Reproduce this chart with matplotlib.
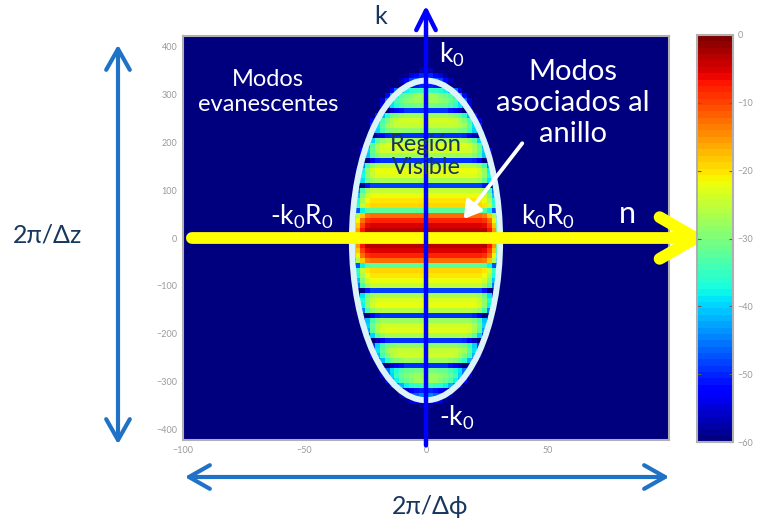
import numpy as np
import matplotlib
matplotlib.use("Agg")
import matplotlib.pyplot as plt
from matplotlib.patches import Ellipse, FancyArrowPatch

plt.rcParams["font.family"] = ["Lato", "DejaVu Sans"]
plt.rcParams["mathtext.fontset"] = "custom"
plt.rcParams["mathtext.rm"] = "Lato"
plt.rcParams["mathtext.default"] = "regular"

# ---- data -------------------------------------------------------------
# azimuthal mode index n (columns) and axial wavenumber k (rows)
n_step = 2.0
k_step = 10.4
n_centers = np.arange(-100, 101, n_step)
k_upper = k_step * (np.arange(40) + 0.5)          # rows above k = 0

# level (dB) of each row on the k > 0 side, from k = 5.2 upward;
# the field is symmetric in k
upper_rows_db = [-2, -3, -5, -8, -13, -32, -19, -20, -22, -25,
                 -48, -27, -23, -22, -26, -49, -28, -24, -23, -27,
                 -49, -29, -25, -24, -28, -49, -30, -26, -25, -29,
                 -42, -32, -32, -32, -32, -32, -32, -32, -32, -32]

# visible-region extent used for the roll-off (|n| <= k0 R0, |k| <= k0)
k0R0 = 29.5
k0 = 345.0

# roll-off near the border of the visible region (normalised radius -> dB drop)
edge_r = [0.0, 0.80, 0.87, 0.93, 0.98, 1.03, 1.08]
edge_drop_db = [0, 0, 3, 9, 18, 30, 60]

cbar_ticks = [0, -10, -20, -30, -40, -50, -60]
x_ticks = [-100, -50, 0, 50]
y_ticks = [400, 300, 200, 100, 0, -100, -200, -300, -400]

# ---- field ------------------------------------------------------------
k_centers = np.concatenate([-k_upper[::-1], k_upper])
rows_db = np.concatenate([np.array(upper_rows_db[::-1]), np.array(upper_rows_db)])
N, K = np.meshgrid(n_centers, k_centers)
r = np.sqrt((N / k0R0) ** 2 + (K / k0) ** 2)
field = rows_db[:, None] - np.interp(r, edge_r, edge_drop_db)
field = np.clip(field, -60, 0)

# ---- figure -----------------------------------------------------------
W, H = 760, 522
fig = plt.figure(figsize=(W / 100, H / 100), dpi=100)
fig.patch.set_facecolor("white")

cmap = plt.get_cmap("jet", 64)
ax = fig.add_axes([183 / W, 1 - 440 / H, 486 / W, 404 / H])
ax.set_facecolor(cmap(0))
im = ax.imshow(field, extent=[n_centers[0] - n_step / 2, n_centers[-1] + n_step / 2,
                              k_centers[0] - k_step / 2, k_centers[-1] + k_step / 2],
               origin="lower", cmap=cmap, vmin=-60, vmax=0, aspect="auto",
               interpolation="nearest")
ax.set_xlim(-100, 100)
ax.set_ylim(-421, 421)
ax.set_xticks(x_ticks)
ax.set_yticks(y_ticks)
ax.tick_params(length=0, labelsize=6.5, labelcolor="#9a9a9a", pad=4)
for s in ax.spines.values():
    s.set_color("#b0b0b0")
    s.set_linewidth(1.5)

# colour bar
cax = fig.add_axes([697 / W, 1 - 442 / H, 36 / W, 407 / H])
cb = fig.colorbar(im, cax=cax, ticks=cbar_ticks)
cb.outline.set_edgecolor("#b0b0b0")
cb.outline.set_linewidth(1.5)
cax.tick_params(labelsize=6.5, labelcolor="#9a9a9a", color="#606060",
                direction="in", length=3, left=True, right=True)

navy = "#17375E"

# visible-region outline
ax.add_patch(Ellipse((0, -5), 61, 666, fill=False, edgecolor="#dcf3f8",
                     linewidth=4.3, zorder=3))

# n axis (yellow) and k axis (blue)
ax.add_patch(FancyArrowPatch((-97.5, 0), (117, 0),
                             arrowstyle="->,head_length=26,head_width=15",
                             mutation_scale=1, color="#ffff00", linewidth=8.5,
                             capstyle="round", joinstyle="round",
                             clip_on=False, zorder=5))
ax.add_patch(FancyArrowPatch((0, -438), (0, 490),
                             arrowstyle="->,head_length=14,head_width=7",
                             mutation_scale=1, color="#0000ff", linewidth=3.2,
                             clip_on=False, zorder=6))

# labels inside the map
ax.text(-65, 304, "Modos\nevanescentes", color="white", fontsize=17,
        ha="center", va="center", linespacing=1.25, zorder=7)
ax.text(60.5, 281, "Modos\nasociados al\nanillo", color="white", fontsize=21,
        ha="center", va="center", linespacing=1.25, zorder=7)
ax.text(0, 171, "Región\nVisible", color=navy, fontsize=17,
        ha="center", va="center", linespacing=1.1, zorder=7)
ax.text(-51, 44, "-k$_0$R$_0$", color="white", fontsize=19,
        ha="center", va="center", zorder=7)
ax.text(50, 44, "k$_0$R$_0$", color="white", fontsize=19,
        ha="center", va="center", zorder=7)
ax.text(82.7, 50, "n", color="white", fontsize=22,
        ha="center", va="center", zorder=7)
ax.text(10.7, 381, "k$_0$", color="white", fontsize=19,
        ha="center", va="center", zorder=7)
ax.text(12.8, -375, "-k$_0$", color="white", fontsize=19,
        ha="center", va="center", zorder=7)
ax.add_patch(FancyArrowPatch((40.3, 202), (14.8, 35),
                             arrowstyle="-|>,head_length=10,head_width=6",
                             mutation_scale=1, color="white", linewidth=2.8,
                             zorder=7))

# decorations around the map, in figure pixel coordinates
ov = fig.add_axes([0, 0, 1, 1], zorder=10)
ov.set_xlim(0, W)
ov.set_ylim(H, 0)
ov.axis("off")
ov.patch.set_alpha(0)

arrow_blue = "#1f72c6"
ov.add_patch(FancyArrowPatch((118, 42), (118, 447),
                             arrowstyle="<->,head_length=15,head_width=8.5",
                             mutation_scale=1, color=arrow_blue, linewidth=3))
ov.add_patch(FancyArrowPatch((182, 477), (672, 477),
                             arrowstyle="<->,head_length=15,head_width=8.5",
                             mutation_scale=1, color=arrow_blue, linewidth=3))
ov.text(381, 17, "k", color=navy, fontsize=18, ha="center", va="center")
ov.text(48, 235, "2π/Δz", color=navy, fontsize=18, ha="center", va="center")
ov.text(430, 506, "2π/Δϕ", color=navy, fontsize=18, ha="center", va="center")

fig.savefig("out.png", dpi=100)
